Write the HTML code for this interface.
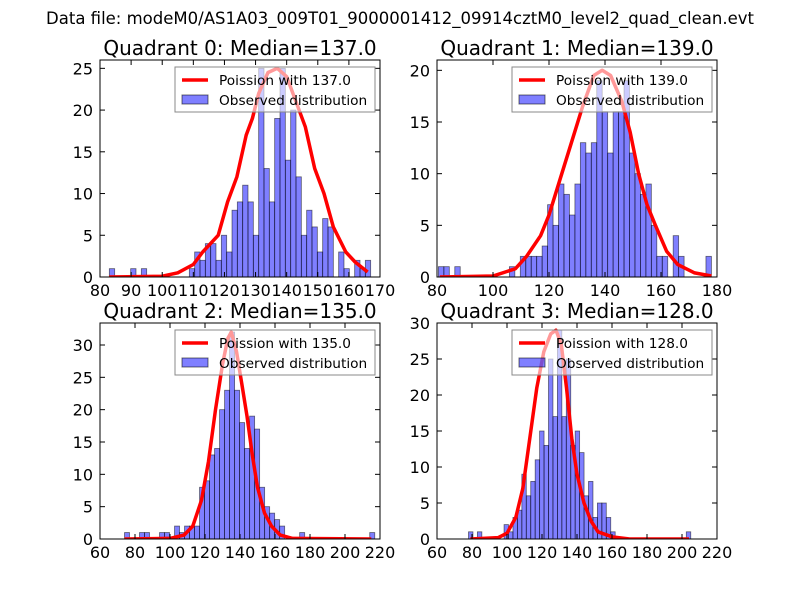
<!DOCTYPE html>
<html><head><meta charset="utf-8"><style>
body{margin:0;background:#fff;width:800px;height:600px;overflow:hidden;font-family:"Liberation Sans","DejaVu Sans",sans-serif;}
svg text{font-family:"DejaVu Sans","Liberation Sans",sans-serif;}
</style></head><body>
<svg id="fig" width="800" height="600" xmlns="http://www.w3.org/2000/svg">
<text x="400" y="24" text-anchor="middle" font-size="16.5">Data file: modeM0/AS1A03_009T01_9000001412_09914cztM0_level2_quad_clean.evt</text>
</svg>
<script>
const counts0=[1,0,0,0,1,0,1,0,0,0,0,0,0,0,0,1,3,2,4,4,2,5,3,8,9,11,9,5,25,13,9,19,25,14,20,12,5,8,6,3,7,6,0,3,1,0,2,1,2];
const counts1=[1,1,0,1,0,0,0,0,0,0,0,0,0,1,0,2,2,2,2,3,7,5,9,8,6,9,13,12,13,19,16,12,16,16,19,12,10,8,9,5,2,2,0,4,2,0,0,0,0,2];
const counts2=[1,0,0,1,1,0,0,1,1,0,2,1,2,2,2,8,9,13,14,20,23,32,23,18,14,19,17,8,5,4,3,2,0,0,0,1,0,0,0,0,0,0,0,0,0,0,0,0,0,1];
const counts3=[1,0,1,0,0,0,0,0,2,1,3,4,9,6,8,11,15,13,25,17,29,17,25,13,15,12,6,8,3,5,5,3,1,0,0,0,0,0,0,0,0,0,0,0,0,0,0,0,0,1];
const binRange0=[83,167],binRange1=[80.5,178],binRange2=[74,217],binRange3=[78,205];
const curveX0=[83,100,105,110,113,118,121,124,127,129,131,134,137,140,143,146,149,152,155,159,162,166];
const curveY0=[0,0.1,0.5,1.5,3,5,9,12,17,19,22,24.5,25,24,21,18,13,10,6,3,1.8,0.6];
const curveX1=[81,100,108,112,117,120,124,128,132,136,139,142,146,149,152,155,158,162,166,172,178];
const curveY1=[0,0.1,0.8,2,4,6,9.5,13,16.5,19.5,20,19.5,17,14,10,7,5,2.5,1.2,0.4,0.1];
const curveX2=[74,100,108,113,118,122,126,130,133,135,138,141,144,147,150,154,158,163,170,215];
const curveY2=[0,0.1,0.6,2,6,12,20,27,31,32,29,24,19,13,8,4,2,0.6,0.1,0];
const curveX3=[79,95,100,105,109,113,117,121,125,128,131,134,137,140,144,148,152,160,170,204];
const curveY3=[0,0.2,0.8,3,7,14,21,26,28.5,29,27,21,14,9,5,2.5,1,0.3,0,0];
const titles=["Quadrant 0: Median=137.0","Quadrant 1: Median=139.0","Quadrant 2: Median=135.0","Quadrant 3: Median=128.0"];
const legendLabels=["Poission with 137.0","Poission with 139.0","Poission with 135.0","Poission with 128.0"];
const xTicks0=[80,90,100,110,120,130,140,150,160,170];
const xTicks1=[80,100,120,140,160,180];
const xTicks2=[60,80,100,120,140,160,180,200,220];
const xTicks3=[60,80,100,120,140,160,180,200,220];
const yTicks0=[0,5,10,15,20,25];
const yTicks1=[0,5,10,15,20];
const yTicks2=[0,5,10,15,20,25,30];
const yTicks3=[0,5,10,15,20,25,30];
const xDom=[[80,170],[80,180],[60,220],[60,220]];
const yDom=[[0,26],[0,21],[0,33.4],[0,30]];

const NS="http://www.w3.org/2000/svg";
const fig=document.getElementById('fig');
function mk(tag,attrs,parent){const e=document.createElementNS(NS,tag);for(const k in attrs)e.setAttribute(k,attrs[k]);(parent||fig).appendChild(e);return e;}
const boxes=[[100,60,380,277],[437,60,717,277],[100,323,380,539],[437,323,717,539]];
const C=[counts0,counts1,counts2,counts3],R=[binRange0,binRange1,binRange2,binRange3];
const CX=[curveX0,curveX1,curveX2,curveX3],CY=[curveY0,curveY1,curveY2,curveY3];
const XT=[xTicks0,xTicks1,xTicks2,xTicks3],YT=[yTicks0,yTicks1,yTicks2,yTicks3];
for(let p=0;p<4;p++){
  const [L,T,Rr,B]=boxes[p];
  const sx=v=>L+(v-xDom[p][0])/(xDom[p][1]-xDom[p][0])*(Rr-L);
  const sy=v=>B-(v-yDom[p][0])/(yDom[p][1]-yDom[p][0])*(B-T);
  const g=mk('g',{});
  
  
  const cp=mk('clipPath',{id:'cp'+p},g);mk('rect',{x:L,y:T,width:Rr-L,height:B-T},cp);
  const counts=C[p],n=counts.length,w=(R[p][1]-R[p][0])/n;
  for(let i=0;i<n;i++){if(!counts[i])continue;
    const x0=R[p][0]+i*w;
    const r=mk('rect',{x:sx(x0),y:sy(counts[i]),width:sx(x0+w)-sx(x0),height:sy(0)-sy(counts[i]),fill:'rgba(0,0,255,0.5)',stroke:'rgba(0,0,0,0.55)','stroke-width':0.8,'clip-path':'url(#cp'+p+')'},g);
    
    
  }
  let d='';CX[p].forEach((x,i)=>{d+=(i?'L':'M')+sx(x).toFixed(1)+','+sy(CY[p][i]).toFixed(1);});
  const ln=mk('path',{d:d,fill:'none',stroke:'red','stroke-width':3.5,'stroke-linejoin':'round','clip-path':'url(#cp'+p+')'},g);
  
  
  mk('rect',{x:L,y:T,width:Rr-L,height:B-T,fill:'none',stroke:'#000','stroke-width':1},g);
  XT[p].forEach(v=>{const x=sx(v);
    mk('line',{x1:x,x2:x,y1:B,y2:B-5,stroke:'#000'},g);mk('line',{x1:x,x2:x,y1:T,y2:T+5,stroke:'#000'},g);
    const t=mk('text',{x:x,y:B+19,'text-anchor':'middle','font-size':16},g);t.textContent=v;
    
    
  });
  YT[p].forEach(v=>{const y=sy(v);
    mk('line',{x1:L,x2:L+5,y1:y,y2:y,stroke:'#000'},g);mk('line',{x1:Rr,x2:Rr-5,y1:y,y2:y,stroke:'#000'},g);
    const t=mk('text',{x:L-7,y:y+6,'text-anchor':'end','font-size':16},g);t.textContent=v;
    
    
  });
  const tt=mk('text',{x:(L+Rr)/2,y:T-5,'text-anchor':'middle','font-size':20},g);tt.textContent=titles[p];
  
  
  const lg=mk('g',{},g);
  
  
  const lx=Rr-205,ly=T+7;
  mk('rect',{x:lx,y:ly,width:200,height:45,fill:'#fff','fill-opacity':0.6,stroke:'#888','stroke-width':1},lg);
  mk('line',{x1:lx+7,x2:lx+33,y1:ly+13,y2:ly+13,stroke:'red','stroke-width':3.5},lg);
  mk('rect',{x:lx+7,y:ly+28,width:26,height:9,fill:'rgba(0,0,255,0.5)',stroke:'rgba(0,0,0,0.55)'},lg);
  const t1=mk('text',{x:lx+44,y:ly+18,'font-size':13.7},lg);t1.textContent=legendLabels[p];
  
  
  const t2=mk('text',{x:lx+44,y:ly+38,'font-size':13.7},lg);t2.textContent='Observed distribution';
  
  
}
</script>
</body></html>
